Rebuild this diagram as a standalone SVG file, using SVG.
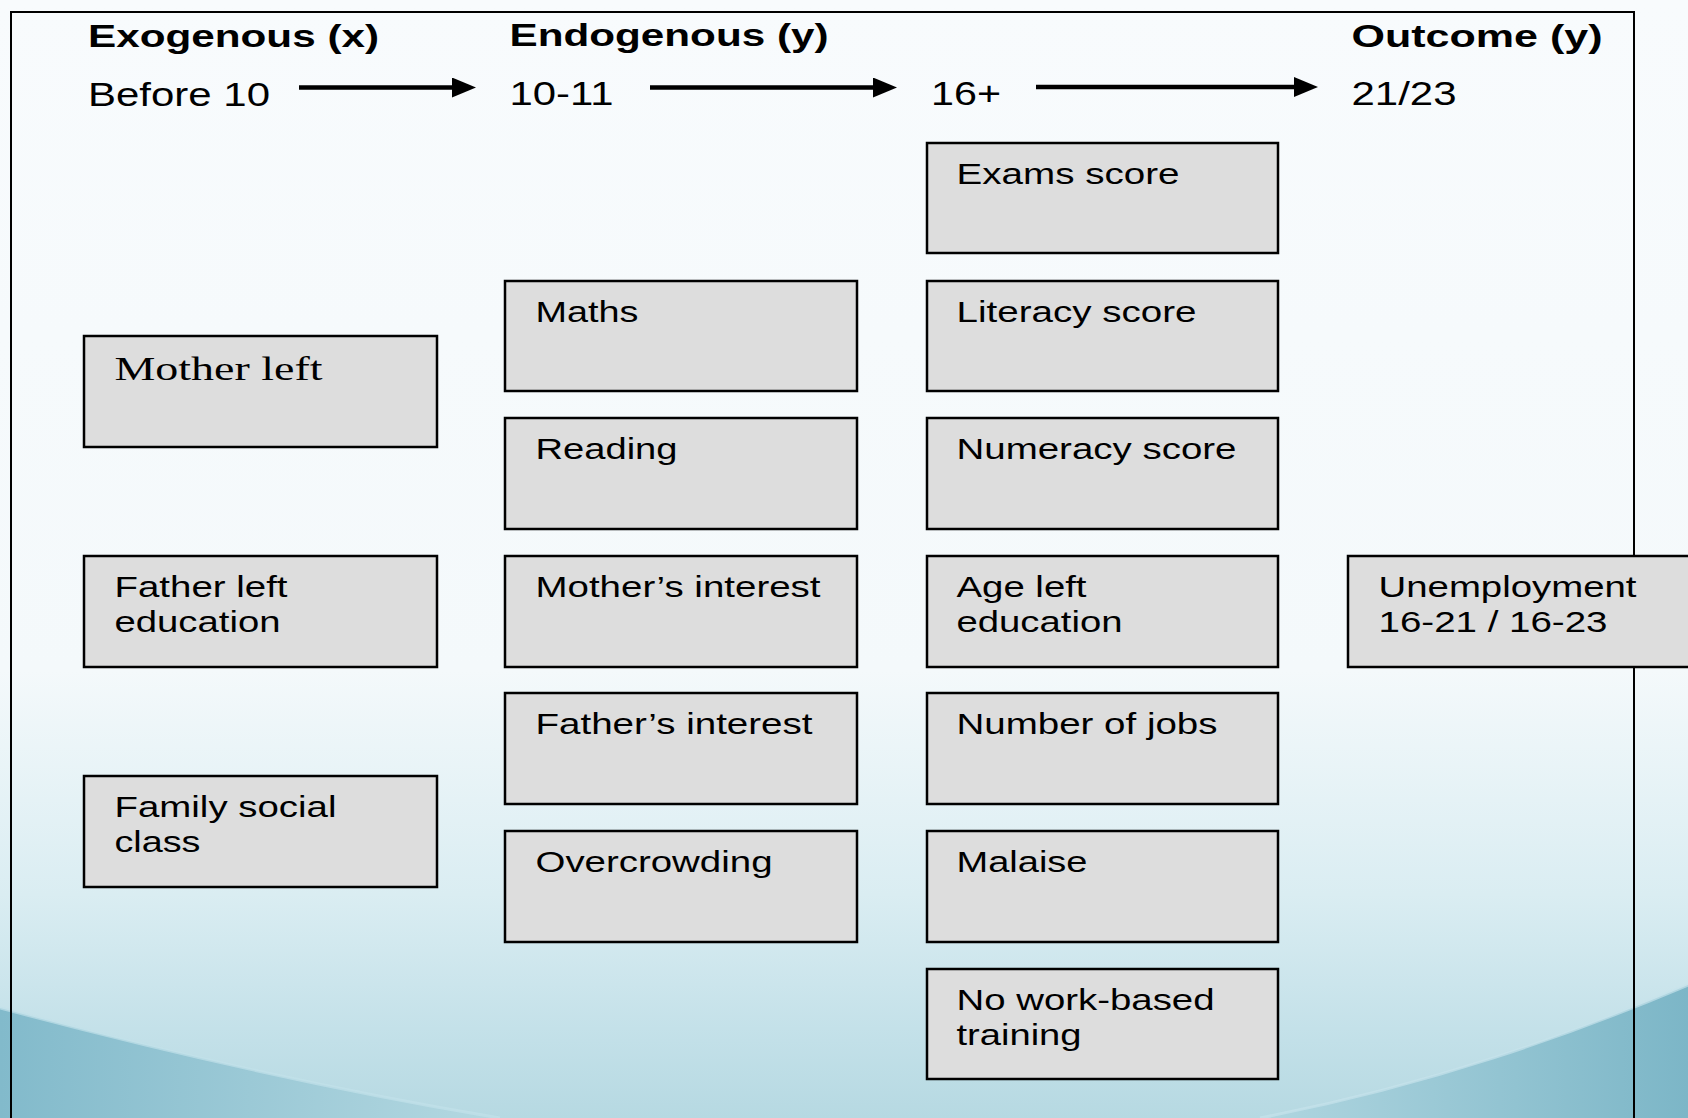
<svg xmlns="http://www.w3.org/2000/svg" width="1688" height="1118" viewBox="0 0 1688 1118">
<defs>
<linearGradient id="bg" x1="0" y1="0" x2="0" y2="1">
<stop offset="0" stop-color="#f8fbfd"/>
<stop offset="0.6" stop-color="#f4f9fb"/>
<stop offset="0.8" stop-color="#daedf2"/>
<stop offset="0.92" stop-color="#c4e1e9"/>
<stop offset="1" stop-color="#b6d9e2"/>
</linearGradient>
<linearGradient id="waveL" x1="0" y1="0" x2="1" y2="0">
<stop offset="0" stop-color="#82bacb"/>
<stop offset="1" stop-color="#b4d8e1"/>
</linearGradient>
<linearGradient id="waveR" x1="0" y1="0" x2="1" y2="0">
<stop offset="0" stop-color="#b0d6e0"/>
<stop offset="1" stop-color="#7cb6c7"/>
</linearGradient>
<marker id="ah" markerUnits="userSpaceOnUse" markerWidth="24" markerHeight="20" refX="2" refY="10" orient="auto">
<path d="M0,0 L24,10 L0,20 Z" fill="#000"/>
</marker>
<style>
.box{fill:#dddddd;stroke:#000;stroke-width:2.5}
.t{font-family:"Liberation Sans",Arial,sans-serif;font-size:29px;fill:#000}
.h{font-family:"Liberation Sans",Arial,sans-serif;font-size:32px;font-weight:bold;fill:#000}
.a{font-family:"Liberation Sans",Arial,sans-serif;font-size:33px;fill:#000}
.s{font-family:"Liberation Serif","Times New Roman",serif;font-size:33px;fill:#000}
.c{stroke:#000;stroke-width:4.5;fill:none}
</style>
</defs>
<g id="background">
<rect x="0" y="0" width="1688" height="1118" fill="url(#bg)"/>
<path d="M0,1008 C150,1048 320,1088 500,1118 L0,1118 Z" fill="url(#waveL)"/>
<path d="M0,1008 C150,1048 320,1088 500,1118" stroke="#c2e1e9" stroke-width="3" fill="none" opacity="0.7"/>
<path d="M1688,985 C1570,1035 1430,1085 1260,1118 L1688,1118 Z" fill="url(#waveR)"/>
<path d="M1688,985 C1570,1035 1430,1085 1260,1118" stroke="#c6e3eb" stroke-width="3" fill="none" opacity="0.7"/>
<rect x="11" y="12" width="1623" height="1120" fill="none" stroke="#000" stroke-width="2"/>
</g>
<g id="headers">
<text class="h" x="88" y="46.5" textLength="291" lengthAdjust="spacingAndGlyphs">Exogenous (x)</text>
<text class="h" x="509.5" y="46" textLength="319" lengthAdjust="spacingAndGlyphs">Endogenous (y)</text>
<text class="h" x="1351.5" y="46.5" textLength="251" lengthAdjust="spacingAndGlyphs">Outcome (y)</text>
<text class="a" x="88" y="105.5" textLength="182" lengthAdjust="spacingAndGlyphs">Before 10</text>
<text class="a" x="509.5" y="105" textLength="104" lengthAdjust="spacingAndGlyphs">10-11</text>
<text class="a" x="931" y="105" textLength="70" lengthAdjust="spacingAndGlyphs">16+</text>
<text class="a" x="1351.5" y="105" textLength="105" lengthAdjust="spacingAndGlyphs">21/23</text>
</g>
<g id="connectors">
<line class="c" x1="299" y1="87.5" x2="454" y2="87.5" marker-end="url(#ah)"/>
<line class="c" x1="650" y1="87.5" x2="875" y2="87.5" marker-end="url(#ah)"/>
<line class="c" x1="1036" y1="87" x2="1296" y2="87" marker-end="url(#ah)"/>
</g>
<g id="mother-left"><rect class="box" x="84" y="336" width="353" height="111"/><text class="s" x="114.5" y="380" textLength="208" lengthAdjust="spacingAndGlyphs">Mother left</text></g>
<g id="father-left-education"><rect class="box" x="84" y="556" width="353" height="111"/><text class="t" x="114.5" y="597" textLength="173" lengthAdjust="spacingAndGlyphs">Father left</text><text class="t" x="114.5" y="632" textLength="166" lengthAdjust="spacingAndGlyphs">education</text></g>
<g id="family-social-class"><rect class="box" x="84" y="776" width="353" height="111"/><text class="t" x="114.5" y="817" textLength="222" lengthAdjust="spacingAndGlyphs">Family social</text><text class="t" x="114.5" y="852" textLength="86" lengthAdjust="spacingAndGlyphs">class</text></g>
<g id="maths"><rect class="box" x="505" y="281" width="352" height="110"/><text class="t" x="535.5" y="322" textLength="103" lengthAdjust="spacingAndGlyphs">Maths</text></g>
<g id="reading"><rect class="box" x="505" y="418" width="352" height="111"/><text class="t" x="535.5" y="459" textLength="142" lengthAdjust="spacingAndGlyphs">Reading</text></g>
<g id="mothers-interest"><rect class="box" x="505" y="556" width="352" height="111"/><text class="t" x="535.5" y="597" textLength="285" lengthAdjust="spacingAndGlyphs">Mother’s interest</text></g>
<g id="fathers-interest"><rect class="box" x="505" y="693" width="352" height="111"/><text class="t" x="535.5" y="734" textLength="277" lengthAdjust="spacingAndGlyphs">Father’s interest</text></g>
<g id="overcrowding"><rect class="box" x="505" y="831" width="352" height="111"/><text class="t" x="535.5" y="872" textLength="237" lengthAdjust="spacingAndGlyphs">Overcrowding</text></g>
<g id="exams-score"><rect class="box" x="927" y="143" width="351" height="110"/><text class="t" x="956.5" y="184" textLength="223" lengthAdjust="spacingAndGlyphs">Exams score</text></g>
<g id="literacy-score"><rect class="box" x="927" y="281" width="351" height="110"/><text class="t" x="956.5" y="322" textLength="240" lengthAdjust="spacingAndGlyphs">Literacy score</text></g>
<g id="numeracy-score"><rect class="box" x="927" y="418" width="351" height="111"/><text class="t" x="956.5" y="459" textLength="280" lengthAdjust="spacingAndGlyphs">Numeracy score</text></g>
<g id="age-left-education"><rect class="box" x="927" y="556" width="351" height="111"/><text class="t" x="956.5" y="597" textLength="130" lengthAdjust="spacingAndGlyphs">Age left</text><text class="t" x="956.5" y="632" textLength="166" lengthAdjust="spacingAndGlyphs">education</text></g>
<g id="number-of-jobs"><rect class="box" x="927" y="693" width="351" height="111"/><text class="t" x="956.5" y="734" textLength="261" lengthAdjust="spacingAndGlyphs">Number of jobs</text></g>
<g id="malaise"><rect class="box" x="927" y="831" width="351" height="111"/><text class="t" x="956.5" y="872" textLength="131" lengthAdjust="spacingAndGlyphs">Malaise</text></g>
<g id="no-work-based-training"><rect class="box" x="927" y="969" width="351" height="110"/><text class="t" x="956.5" y="1010" textLength="258" lengthAdjust="spacingAndGlyphs">No work-based</text><text class="t" x="956.5" y="1045" textLength="125" lengthAdjust="spacingAndGlyphs">training</text></g>
<g id="unemployment"><rect class="box" x="1348" y="556" width="360" height="111"/><text class="t" x="1378.5" y="597" textLength="258" lengthAdjust="spacingAndGlyphs">Unemployment</text><text class="t" x="1378.5" y="632" textLength="229" lengthAdjust="spacingAndGlyphs">16-21 / 16-23</text></g>
</svg>
